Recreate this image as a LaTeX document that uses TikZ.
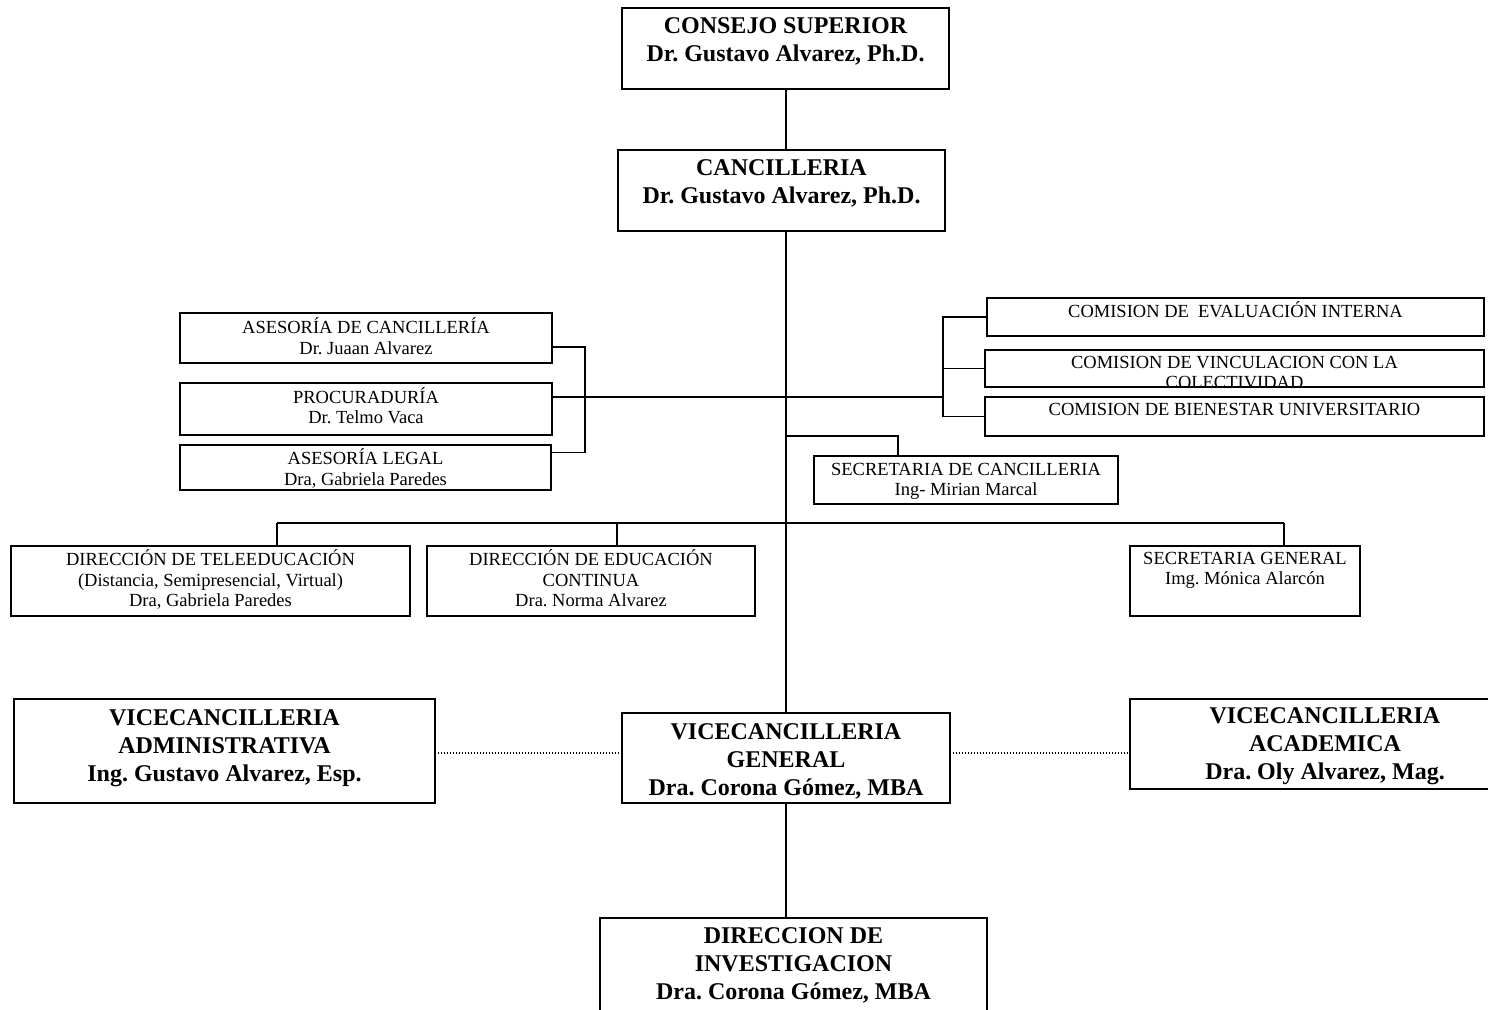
\documentclass[tikz,border=0pt]{standalone}
\usepackage{fontspec}
\setmainfont{Liberation Serif}
\frenchspacing
\begin{document}
\begin{tikzpicture}[x=1pt,y=-1pt,
  box/.style={draw, line width=1.2pt, inner sep=0pt, outer sep=0pt},
  bigbox/.style={draw, line width=1.7pt, inner sep=0pt, outer sep=0pt},
  small/.style={font=\fontsize{18.5}{20.5}\selectfont, align=center, inner sep=0pt, anchor=north},
  big/.style={font=\bfseries\fontsize{24}{28}\selectfont, align=center, inner sep=0pt, anchor=north},
  conn/.style={line width=1.3pt},
  dots/.style={line width=1.2pt, dash pattern=on 1.2pt off 1.8pt}]
\useasboundingbox (0,0) rectangle (1488,1009);

% boxes
\node[bigbox, minimum width=327pt, minimum height=81pt] (cs) at (785.5,48.5) {};
\node[bigbox, minimum width=327pt, minimum height=81pt] (canc) at (781.5,190.5) {};
\node[box, minimum width=372pt, minimum height=50pt] (ase) at (366,338) {};
\node[box, minimum width=372pt, minimum height=52pt] (proc) at (366,409) {};
\node[box, minimum width=371pt, minimum height=45pt] (legal) at (365.5,467.5) {};
\node[box, minimum width=497pt, minimum height=38pt] (cei) at (1235.5,317) {};
\node[box, minimum width=499pt, minimum height=37pt] (cvc) at (1234.5,368.5) {};
\node[box, minimum width=499pt, minimum height=39pt] (cbu) at (1234.5,416.5) {};
\node[box, minimum width=304pt, minimum height=48pt] (sc) at (966,480) {};
\node[box, minimum width=399pt, minimum height=70pt] (dt) at (210.5,581) {};
\node[box, minimum width=328pt, minimum height=70pt] (dec) at (591,581) {};
\node[box, minimum width=230pt, minimum height=70pt] (sg) at (1245,581) {};
\node[bigbox, minimum width=421pt, minimum height=104pt] (va) at (224.5,751) {};
\node[bigbox, minimum width=328pt, minimum height=90pt] (vg) at (786,758) {};
\node[bigbox, minimum width=390pt, minimum height=90pt] (vac) at (1325,744) {};
\node[bigbox, minimum width=387pt, minimum height=100pt] (di) at (793.5,968) {};

% texts
\node[big] (cs-t) at ([yshift=-5.5pt]cs.north) {\strut CONSEJO SUPERIOR\\Dr. Gustavo Alvarez, Ph.D.};
\node[big] (canc-t) at ([yshift=-5.5pt]canc.north) {\strut CANCILLERIA\\Dr. Gustavo Alvarez, Ph.D.};
\node[small] (ase-t) at ([yshift=-4.5pt]ase.north) {\strut ASESORÍA DE CANCILLERÍA\\Dr. Juaan Alvarez};
\node[small] (proc-t) at ([yshift=-4pt]proc.north) {\strut PROCURADURÍA\\Dr. Telmo Vaca};
\node[small] (legal-t) at ([yshift=-3.5pt]legal.north) {\strut ASESORÍA LEGAL\\Dra, Gabriela Paredes};
\node[small] (cei-t) at ([yshift=-3.5pt]cei.north) {\strut COMISION DE~ EVALUACIÓN INTERNA};
\begin{scope}
  \clip (cvc.north west) rectangle (cvc.south east);
  \node[small] (cvc-t) at ([yshift=-3.5pt]cvc.north) {\strut COMISION DE VINCULACION CON LA\\COLECTIVIDAD};
\end{scope}
\node[small] (cbu-t) at ([yshift=-3.5pt]cbu.north) {\strut COMISION DE BIENESTAR UNIVERSITARIO};
\node[small] (sc-t) at ([yshift=-4.5pt]sc.north) {\strut SECRETARIA DE CANCILLERIA\\Ing- Mirian Marcal};
\node[small] (dt-t) at ([yshift=-3.5pt]dt.north) {\strut DIRECCIÓN DE TELEEDUCACIÓN\\(Distancia, Semipresencial, Virtual)\\Dra, Gabriela Paredes};
\node[small] (dec-t) at ([yshift=-3.5pt]dec.north) {\strut DIRECCIÓN DE EDUCACIÓN\\CONTINUA\\Dra. Norma Alvarez};
\node[small] (sg-t) at ([yshift=-3.5pt]sg.north) {\strut SECRETARIA GENERAL\\Img. Mónica Alarcón};
\node[big] (va-t) at ([yshift=-6.5pt]va.north) {\strut VICECANCILLERIA\\ADMINISTRATIVA\\Ing. Gustavo Alvarez, Esp.};
\node[big] (vg-t) at ([yshift=-7pt]vg.north) {\strut VICECANCILLERIA\\GENERAL\\Dra. Corona Gómez, MBA};
\node[big] (vac-t) at ([yshift=-4.5pt]vac.north) {\strut VICECANCILLERIA\\ACADEMICA\\Dra. Oly Alvarez, Mag.};
\node[big] (di-t) at ([yshift=-5.5pt]di.north) {\strut DIRECCION DE\\INVESTIGACION\\Dra. Corona Gómez, MBA};

% junction coordinates
\coordinate (lb) at (585,397);
\coordinate (rb) at (943,397);
\coordinate (j1) at (785,436);
\coordinate (hl) at (277,523);
\coordinate (hm) at (617,523);
\coordinate (hr) at (1284,523);
\coordinate (sj) at (898,436);

% connectors
\draw[conn] (cs.south -| vg.north) -- (canc.north -| vg.north);
\draw[conn] (canc.south -| vg.north) -- (vg.north);
\draw[conn] ([yshift=-9pt]ase.east) -| (lb) |- ([yshift=15pt]legal.east);
\draw[conn] ([yshift=12pt]proc.east) -- (rb);
\draw[conn] (cei.west) -| (rb) |- (cbu.west);
\draw[conn] (cvc.west) -- (cvc.west -| rb);
\draw[conn] (j1) -| (sj |- sc.north);
\draw[conn] (hl) -- (hr);
\draw[conn] (hl) -- (hl |- dt.north);
\draw[conn] (hm) -- (hm |- dec.north);
\draw[conn] (hr) -- (hr |- sg.north);
\draw[conn] (vg.south) -- (vg.south |- di.north);
\draw[dots] ([yshift=-2pt]va.east) -- ([yshift=-2pt]va.east -| vg.west);
\draw[dots] ([yshift=-2pt]va.east -| vg.east) -- ([yshift=-2pt]va.east -| vac.west);
\end{tikzpicture}
\end{document}
